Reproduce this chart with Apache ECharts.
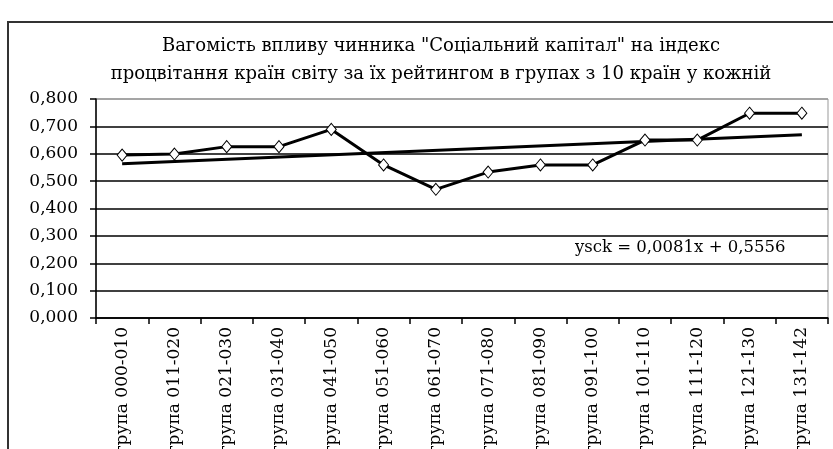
<!DOCTYPE html>
<html>
<head>
<meta charset="utf-8">
<script src="https://cdn.jsdelivr.net/npm/echarts@6/dist/echarts.min.js"></script>
<style>
  html, body { margin: 0; padding: 0; background: #fff; }
  #chart { width: 833px; height: 449px; }
</style>
</head>
<body>
<div id="chart"></div>
<script>
// Groups of 10 countries ranked by prosperity index
const categories = [
  'група 000-010', 'група 011-020', 'група 021-030', 'група 031-040',
  'група 041-050', 'група 051-060', 'група 061-070', 'група 071-080',
  'група 081-090', 'група 091-100', 'група 101-110', 'група 111-120',
  'група 121-130', 'група 131-142'
];

// Weight of the "Social capital" factor per group
const weights = [0.595, 0.599, 0.626, 0.626, 0.689, 0.559, 0.470, 0.533,
                 0.559, 0.559, 0.650, 0.650, 0.748, 0.748];

// Linear trend: ysck = slope * x + intercept, x = 1..14
const trendSlope = 0.0081;
const trendIntercept = 0.5556;
const trendLabel = 'ysck = 0,0081x + 0,5556';

const yTicks = { min: 0, max: 0.8, interval: 0.1 };

const titleText = 'Вагомість впливу чинника "Соціальний капітал" на індекс\n' +
  'процвітання країн світу за їх рейтингом в групах з 10 країн у кожній';

const FONT = '"DejaVu Serif", "Liberation Serif", serif';

const n = categories.length;
const trendData = [
  [0, trendIntercept + trendSlope * 1],
  [n - 1, trendIntercept + trendSlope * n]
];

const chart = echarts.init(document.getElementById('chart'));
chart.setOption({
  animation: false,
  backgroundColor: '#fff',
  title: {
    text: titleText,
    left: 436,
    top: 27,
    textAlign: 'center',
    textStyle: {
      fontFamily: FONT,
      fontWeight: 'normal',
      fontSize: 18,
      color: '#000',
      lineHeight: 28
    }
  },
  graphic: [
    {
      type: 'rect',
      shape: { x: 8, y: 22, width: 840, height: 440 },
      style: { fill: 'none', stroke: '#333', lineWidth: 2 },
      z: 0
    },
    {
      type: 'text',
      left: 575,
      top: 239,
      style: {
        text: trendLabel,
        font: '16.5px ' + FONT,
        fill: '#000'
      },
      z: 10
    }
  ],
  grid: {
    left: 96,
    right: 5,
    top: 99,
    bottom: 131,
    containLabel: false,
    outerBoundsMode: 'none',
    show: true,
    borderColor: '#999',
    borderWidth: 1,
    backgroundColor: 'transparent'
  },
  xAxis: {
    type: 'category',
    data: categories,
    boundaryGap: true,
    axisLine: { lineStyle: { color: '#000', width: 1.5 } },
    axisTick: { show: true, length: 6, lineStyle: { color: '#000', width: 1.5 } },
    axisLabel: {
      rotate: 90,
      interval: 0,
      margin: 9,
      fontFamily: FONT,
      fontSize: 17,
      color: '#000'
    },
    splitLine: { show: false }
  },
  yAxis: {
    type: 'value',
    min: yTicks.min,
    max: yTicks.max,
    interval: yTicks.interval,
    axisLine: { show: true, lineStyle: { color: '#000', width: 1.5 } },
    axisTick: { show: true, length: 6, lineStyle: { color: '#000', width: 1.5 } },
    axisLabel: {
      margin: 18,
      fontFamily: FONT,
      fontSize: 17,
      color: '#000',
      formatter: v => v.toFixed(3).replace('.', ',')
    },
    splitLine: {
      show: true,
      lineStyle: {
        color: ['#000', '#000', '#000', '#000', '#000', '#000', '#000', '#000', '#999'],
        width: 1.5
      }
    }
  },
  series: [
    {
      name: 'trend',
      type: 'line',
      data: trendData,
      symbol: 'none',
      lineStyle: { color: '#000', width: 3 },
      z: 3
    },
    {
      name: 'weights',
      type: 'line',
      data: weights,
      symbol: 'diamond',
      symbolSize: [10, 12],
      itemStyle: { color: '#fff', borderColor: '#000', borderWidth: 1 },
      lineStyle: { color: '#000', width: 3 },
      z: 4
    }
  ]
});
</script>
</body>
</html>
